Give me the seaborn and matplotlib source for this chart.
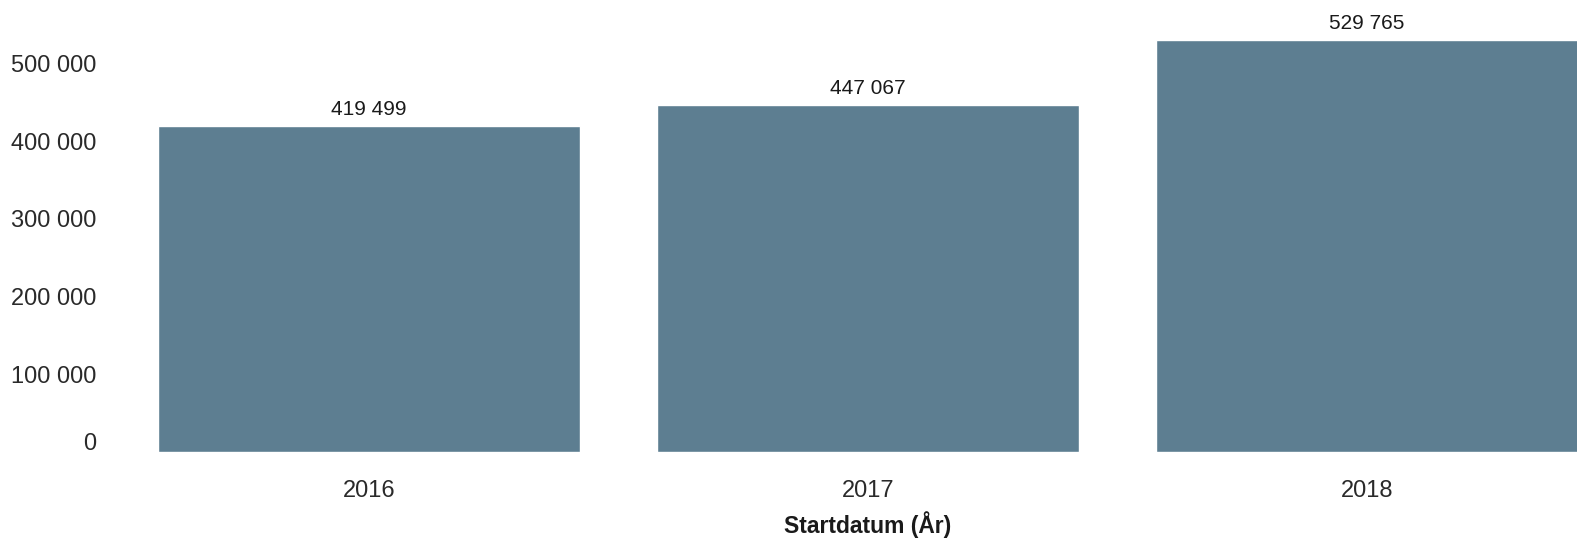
import matplotlib
matplotlib.use("Agg")
import matplotlib.pyplot as plt
import matplotlib.transforms as mtransforms
from matplotlib.ticker import FuncFormatter
import pandas as pd
import seaborn as sns

years = ["2016", "2017", "2018"]
counts = [419499, 447067, 529765]
y_ticks = [0, 100000, 200000, 300000, 400000, 500000]

BAR_COLOR = "#5d7e91"


def fmt_space(v, _pos=None):
    return f"{int(round(v)):,}".replace(",", " ")


def main() -> None:
    sns.set_theme(style="white")
    plt.rcParams["font.family"] = ["Liberation Sans", "DejaVu Sans"]

    df = pd.DataFrame({"year": years, "count": counts})

    W, H = 1577, 539
    fig = plt.figure(figsize=(W / 100, H / 100), dpi=100)
    left_px, bottom_px = 110, 452
    ax = fig.add_axes([left_px / W, (H - bottom_px) / H, (W - left_px) / W, bottom_px / H])

    sns.barplot(data=df, x="year", y="count", color=BAR_COLOR, width=0.846,
                saturation=1, ax=ax)

    # 499 px per category, first category centred at px 369
    ax.set_xlim((left_px - 369) / 499, (W - 369) / 499)
    ax.set_ylim(0, bottom_px / (326 / 419499))

    for p, v in zip(ax.patches, counts):
        ax.annotate(fmt_space(v), (p.get_x() + p.get_width() / 2, p.get_height()),
                    xytext=(0, 5), textcoords="offset points",
                    ha="center", va="bottom", fontsize=15, color="#1a1a1a")

    ax.set_yticks(y_ticks)
    ax.yaxis.set_major_formatter(FuncFormatter(fmt_space))
    ax.tick_params(axis="y", labelsize=17, colors="#2a2a2a", length=0, pad=10)
    ax.tick_params(axis="x", labelsize=17, colors="#2a2a2a", length=0, pad=20)

    # the "0" label sits a bit higher in the original
    lbls = ax.get_yticklabels()
    lbls[0].set_transform(lbls[0].get_transform() +
                          mtransforms.ScaledTranslation(0, 11 / 100, fig.dpi_scale_trans))

    ax.set_ylabel("")
    ax.set_xlabel("Startdatum (År)", fontsize=16.5, fontweight="bold", color="#1a1a1a")
    ax.xaxis.set_label_coords((868 - left_px) / (W - left_px), -0.13)

    sns.despine(ax=ax, left=True, bottom=True, top=True, right=True)
    ax.grid(False)

    fig.savefig("out.png", dpi=100)
    plt.close(fig)


if __name__ == "__main__":
    main()
